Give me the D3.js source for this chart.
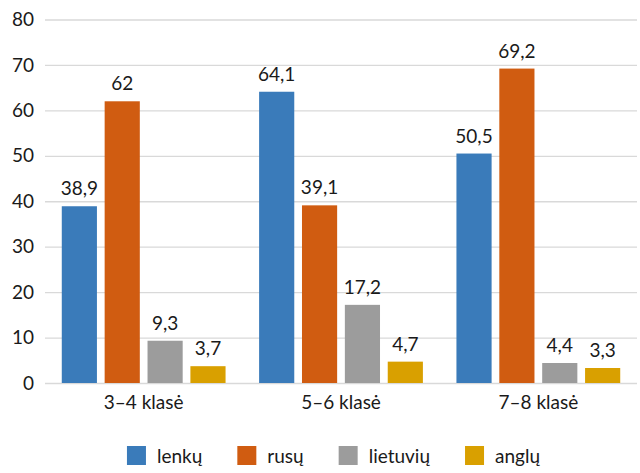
<!DOCTYPE html>
<html>
<head>
<meta charset="utf-8">
<script src="https://cdn.jsdelivr.net/npm/d3@7/dist/d3.min.js"></script>
<style>
  html, body { margin: 0; padding: 0; background: #fff; }
  svg { display: block; font-family: Lato, "Open Sans", sans-serif; }
</style>
</head>
<body>
<svg id="chart" width="640" height="473"></svg>
<script>
// Grades (groups on the x axis)
const categories = ["3–4 klasė", "5–6 klasė", "7–8 klasė"];
// Language series
const seriesNames = ["lenkų", "rusų", "lietuvių", "anglų"];
const lenku    = [38.9, 64.1, 50.5];
const rusu     = [62, 39.1, 69.2];
const lietuviu = [9.3, 17.2, 4.4];
const anglu    = [3.7, 4.7, 3.3];
const seriesValues = [lenku, rusu, lietuviu, anglu];
const yTicks = [0, 10, 20, 30, 40, 50, 60, 70, 80];

const colors = ["#3a7bba", "#d05c11", "#9c9c9c", "#d9a000"];
const fmt = v => String(v).replace(".", ",");

const svg = d3.select("#chart");
const plot = { left: 45, right: 637, top: 19.5, bottom: 383 };

const y = d3.scaleLinear().domain([0, 80]).range([plot.bottom, plot.top]);
const x0 = d3.scaleBand().domain(categories).range([plot.left, plot.right])
  .paddingInner(0.17).paddingOuter(0.085);
const x1 = d3.scaleBand().domain(seriesNames).range([0, x0.bandwidth()])
  .paddingInner(0.18).paddingOuter(0);

// Horizontal gridlines and y labels
const yAxis = d3.axisLeft(y).tickValues(yTicks).tickSize(-(plot.right - plot.left)).tickPadding(11);
const gy = svg.append("g").attr("transform", `translate(${plot.left},0)`).call(yAxis);
gy.select(".domain").remove();
gy.selectAll(".tick line").attr("stroke", "#d9d9d9").attr("stroke-width", 1.3);
gy.selectAll(".tick text").attr("fill", "#1a1a1a").attr("font-size", 19)
  .attr("font-family", "Lato, sans-serif");

// Category labels
const xAxis = d3.axisBottom(x0).tickSize(0).tickPadding(13);
const gx = svg.append("g").attr("transform", `translate(0,${plot.bottom})`).call(xAxis);
gx.select(".domain").remove();
gx.selectAll(".tick text").attr("fill", "#1a1a1a").attr("font-size", 19)
  .attr("font-family", "Lato, sans-serif");

// Bars
const rows = [];
categories.forEach((c, ci) => {
  seriesNames.forEach((s, si) => rows.push({ c, s, si, v: seriesValues[si][ci] }));
});

const bars = svg.append("g");
bars.selectAll("rect").data(rows).join("rect")
  .attr("x", d => x0(d.c) + x1(d.s))
  .attr("y", d => y(d.v))
  .attr("width", x1.bandwidth())
  .attr("height", d => y(0) - y(d.v))
  .attr("fill", d => colors[d.si]);

bars.selectAll("text").data(rows).join("text")
  .attr("x", d => x0(d.c) + x1(d.s) + x1.bandwidth() / 2)
  .attr("y", d => y(d.v) - 11)
  .attr("text-anchor", "middle")
  .attr("font-size", 19)
  .attr("fill", "#1a1a1a")
  .text(d => fmt(d.v));

// Legend
const legend = svg.append("g");
const sq = 19, gapText = 11, gapItem = 35;
let cx = 0;
const items = seriesNames.map((s, i) => {
  const g = legend.append("g");
  g.append("rect").attr("x", 0).attr("y", 0).attr("width", sq).attr("height", sq).attr("fill", colors[i]);
  const t = g.append("text").attr("x", sq + gapText).attr("y", 17)
    .attr("font-size", 19).attr("fill", "#1a1a1a").text(s);
  const w = t.node().getComputedTextLength();
  g.attr("transform", `translate(${cx},0)`);
  cx += sq + gapText + w + gapItem;
  return g;
});
const total = cx - gapItem;
legend.attr("transform", `translate(${333.5 - total / 2},446)`);
</script>
</body>
</html>
